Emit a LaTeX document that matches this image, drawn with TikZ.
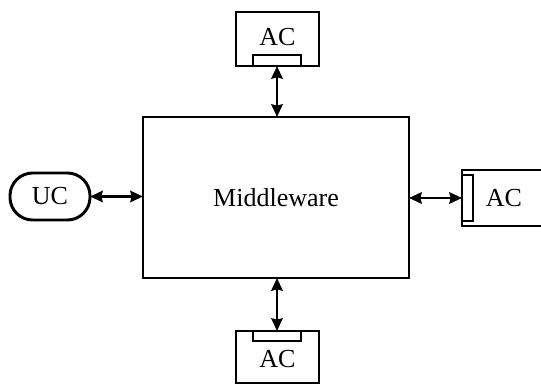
\documentclass[tikz,border=0pt]{standalone}
\usepackage{fontspec}
\setmainfont{Liberation Serif}
\usetikzlibrary{arrows.meta}
\begin{document}
\begin{tikzpicture}[x=0.75pt,y=-0.75pt,
  lbl/.style={font=\fontsize{19.5}{22}\selectfont,inner sep=0pt},
  box/.style={draw,line width=2.2pt,inner sep=0pt,outer sep=0pt,font=\fontsize{19.5}{22}\selectfont},
  port/.style={draw,fill=white,line width=2.2pt,inner sep=0pt,outer sep=0pt},
  link/.style={line width=2.2pt,{Stealth[length=9.5pt,width=8.5pt,inset=1pt]}-{Stealth[length=9.5pt,width=8.5pt,inset=1pt]}}]
\useasboundingbox (0,0) rectangle (541,385);
\node[box,minimum width=199.5pt,minimum height=120.75pt] (mw) at (276,197.5) {Middleware};
\node[box,minimum width=60pt,minimum height=35.25pt,rounded corners=17pt] (uc) at (50,196.5) {UC};
% top AC
\node[box,minimum width=62.25pt,minimum height=40.5pt] (act) at (277.5,39) {};
\node[lbl] (actl) at (277.5,37) {AC};
\node[port,minimum width=36pt,minimum height=8.25pt] (pt) at (277,60.5) {};
% bottom AC
\node[box,minimum width=62.25pt,minimum height=39pt] (acb) at (277.5,357) {};
\node[lbl] (acbl) at (277.5,359) {AC};
\node[port,minimum width=36pt,minimum height=7.5pt] (pb) at (277,336) {};
% right AC
\node[box,minimum width=62.25pt,minimum height=42pt] (acr) at (503.5,198) {};
\node[lbl] (acrl) at (504,198) {AC};
\node[port,minimum width=8.25pt,minimum height=34.5pt] (pr) at (467.5,198) {};
% links
\draw[link] (pt.south) -- (pt.south |- mw.north);
\draw[link] (pb.north) -- (pb.north |- mw.south);
\draw[link] (uc.east) -- (uc.east -| mw.west);
\draw[link] (mw.east |- pr.west) -- (pr.west);
\end{tikzpicture}
\end{document}
